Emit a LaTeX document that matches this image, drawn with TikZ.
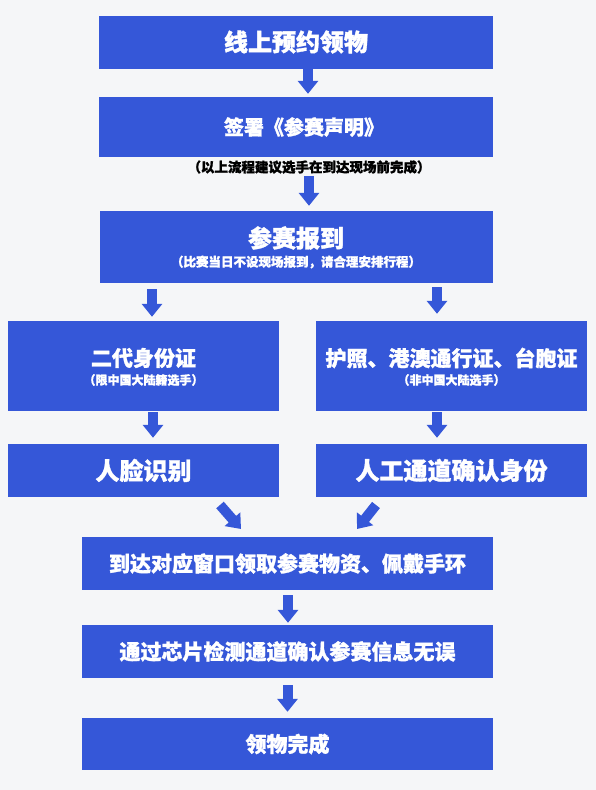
\documentclass[tikz,border=0pt]{standalone}
\usepackage{fontspec}
\setmainfont{Noto Sans CJK SC}[BoldFeatures={FakeBold=1.3}]
\usetikzlibrary{arrows.meta}
\definecolor{bblue}{HTML}{3557D8}
\definecolor{bgc}{HTML}{F5F6F8}
\newcommand{\fs}[1]{\fontsize{#1}{#1}\selectfont}
\begin{document}
\begin{tikzpicture}[x=1pt,y=-1pt,
  box/.style={rectangle, fill=bblue, inner sep=0pt, text=white},
  lbl/.style={inner sep=0pt, text=white},
  blk/.style={draw=bblue, line width=10pt, -{Triangle[width=20pt,length=13pt]}}]
\useasboundingbox[fill=bgc] (0,0) rectangle (596,790);
% boxes
\node[box, minimum width=394pt, minimum height=53pt, font=\bfseries\fs{24}] (b1) at (296,42) {线上预约领物};
\node[box, minimum width=394pt, minimum height=60pt, font=\bfseries\fs{20}] (b2) at (296,127) {\hspace*{16pt}签署《参赛声明》};
\node[inner sep=1pt, font=\bfseries\fs{13.5}] (note) at (309,167) {（以上流程建议选手在到达现场前完成）};
\node[box, minimum width=393pt, minimum height=72pt] (b3) at (296,247) {};
\node[lbl, font=\bfseries\fs{24}] (t3) at (296,238) {参赛报到};
\node[lbl, font=\bfseries\fs{12.5}] (s3) at (296,262) {（比赛当日不设现场报到，请合理安排行程）};
\node[box, minimum width=271pt, minimum height=90pt] (b4l) at (143.5,366) {};
\node[lbl, font=\bfseries\fs{21}] (t4l) at (143.5,358) {二代身份证};
\node[lbl, font=\bfseries\fs{12}] (s4l) at (143.5,380) {（限中国大陆籍选手）};
\node[box, minimum width=271pt, minimum height=90pt] (b4r) at (451.5,366) {};
\node[lbl, font=\bfseries\fs{21}] (t4r) at (451.5,358) {护照、港澳通行证、台胞证};
\node[lbl, font=\bfseries\fs{12}] (s4r) at (451.5,380) {（非中国大陆选手）};
\node[box, minimum width=271pt, minimum height=53pt, font=\bfseries\fs{24}] (b5l) at (143.5,470.5) {人脸识别};
\node[box, minimum width=271pt, minimum height=53pt, font=\bfseries\fs{24}] (b5r) at (451.5,470.5) {人工通道确认身份};
\node[box, minimum width=411pt, minimum height=53pt, font=\bfseries\fs{21}] (b6) at (287.5,563.5) {到达对应窗口领取参赛物资、佩戴手环};
\node[box, minimum width=411pt, minimum height=53pt, font=\bfseries\fs{21}] (b7) at (287.5,651.5) {通过芯片检测通道确认参赛信息无误};
\node[box, minimum width=411pt, minimum height=52pt, font=\bfseries\fs{21}] (b8) at (287.5,744) {领物完成};
% arrows
\draw[blk, shorten >=3pt] ([xshift=12pt]b1.south) -- ([xshift=12pt]b2.north);
\draw[blk, shorten <=1pt, shorten >=5pt] (note.south) -- (note.south |- b3.north);
\draw[blk, shorten <=6pt, shorten >=4pt] ([xshift=8.5pt]b4l.north |- b3.south) -- ([xshift=8.5pt]b4l.north);
\draw[blk, shorten <=4pt, shorten >=7pt] ([xshift=-14.5pt]b4r.north |- b3.south) -- ([xshift=-14.5pt]b4r.north);
\draw[blk, shorten <=1pt, shorten >=6pt] ([xshift=9.5pt]b4l.south) -- ([xshift=9.5pt]b5l.north);
\draw[blk, shorten <=1pt, shorten >=6pt] ([xshift=-14.5pt]b4r.south) -- ([xshift=-14.5pt]b5r.north);
\coordinate (dL1) at (220,505);
\coordinate (dL2) at (241,529);
\coordinate (dR1) at (376,505);
\coordinate (dR2) at (357,529);
\draw[blk] (dL1) -- (dL2);
\draw[blk] (dR1) -- (dR2);
\draw[blk, shorten <=5pt, shorten >=2pt] ([xshift=0.5pt]b6.south) -- ([xshift=0.5pt]b7.north);
\draw[blk, shorten <=7pt, shorten >=6pt] (b7.south) -- (b8.north);
\end{tikzpicture}
\end{document}
